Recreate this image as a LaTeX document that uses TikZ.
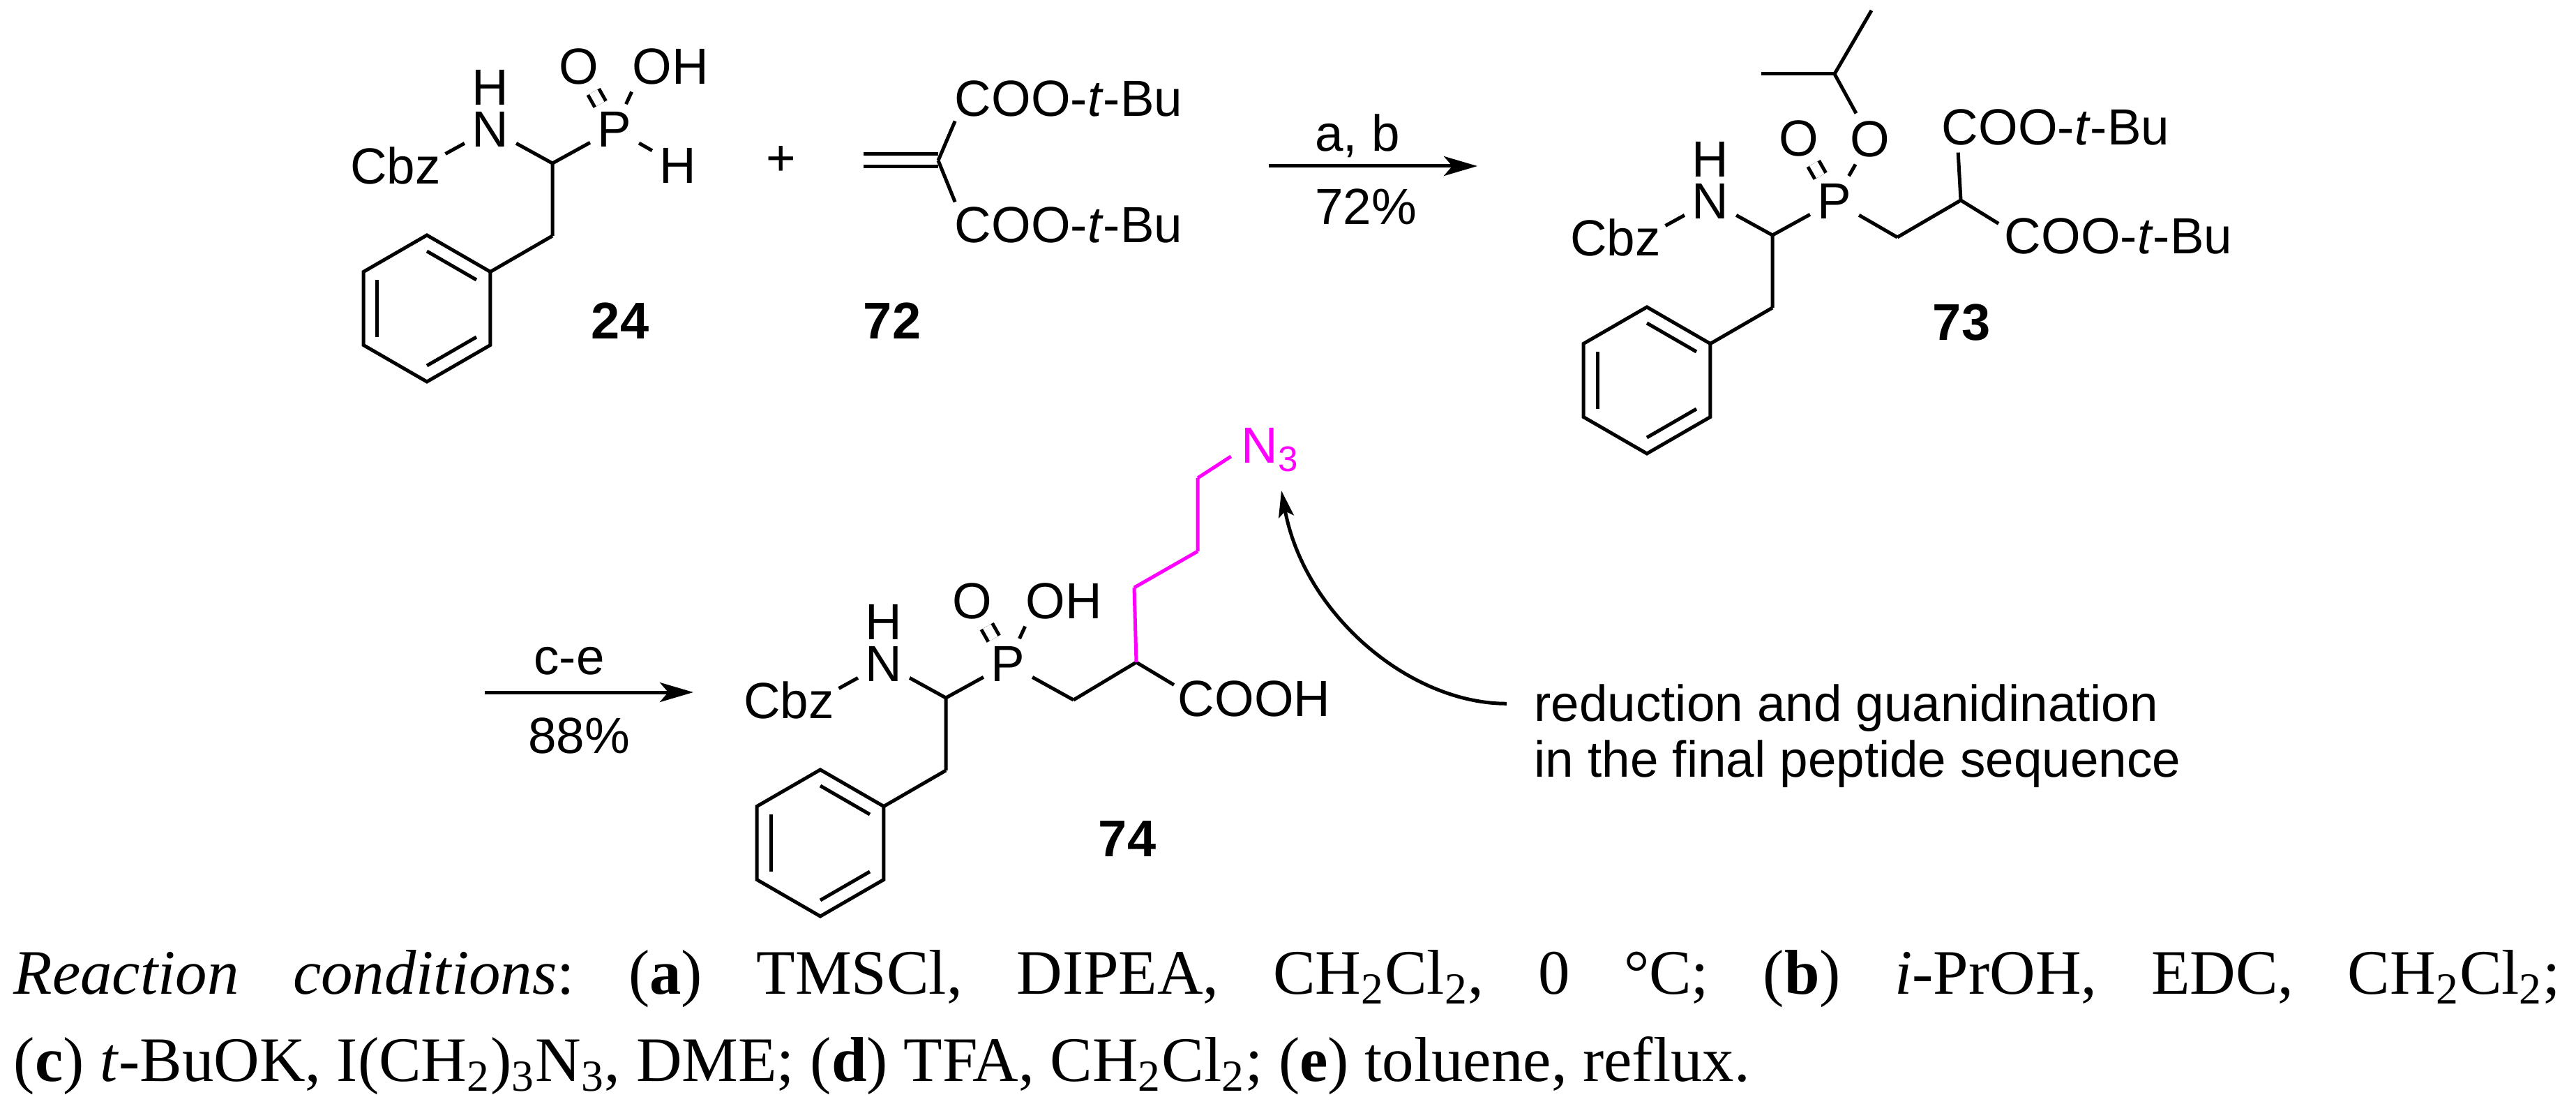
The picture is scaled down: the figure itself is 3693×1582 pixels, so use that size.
\documentclass[tikz,border=0pt]{standalone}
\usepackage{fontspec}
\setmainfont{Liberation Serif}
\setsansfont{Liberation Sans}
\usepackage{tikz}
\usetikzlibrary{positioning,arrows.meta,shapes.geometric}
\definecolor{azidecol}{RGB}{255,0,255}
\tikzset{
    atom/.style={font=\sffamily\fontsize{18.2}{20}\selectfont,inner sep=2.5pt},
    vertex/.style={inner sep=0pt,outer sep=0pt,minimum size=0pt},
    cmpd/.style={font=\sffamily\bfseries\fontsize{18.5}{22}\selectfont,inner sep=0pt},
    bond/.style={line width=1.25pt},
    dbond/.style={bond,double,double distance=3.25pt},
    reaction/.style={line width=1.25pt,-{Stealth[length=12pt,width=7pt,inset=3pt]}},
    ring/.style={regular polygon,regular polygon sides=6,shape border rotate=30,minimum size=52.5pt,inner sep=0pt,outer sep=0pt}
}

\begin{document}
\begin{tikzpicture}[x=0.25pt,y=-0.25pt,on grid]
    \useasboundingbox (0,0) rectangle (3693,1582);

    % the part that 24, 73 and 74 share
    \foreach \m/\cx/\cy in {a/792/234,b/2541/337,c/1356/1000}{
        \node[vertex] (ch\m) at (\cx,\cy) {};
        \node[atom] (n\m) [above left=12.25pt and 22.25pt of ch\m] {N};
        \node[atom] (h\m) [above=15pt of n\m] {H};
        \node[atom] (cbz\m) [below left=13pt and 34pt of n\m] {Cbz};
        \node[atom] (p\m) [above right=12.25pt and 22.25pt of ch\m] {P};
        \node[atom] (o\m) [above left=22.5pt and 12.75pt of p\m] {O};
        \node[vertex] (ctwo\m) [below=26pt of ch\m] {};
        \node[ring,draw,line width=1.25pt] (ring\m) [below left=26pt and 45pt of ctwo\m] {};
        \node[ring,minimum size=41pt] (inner\m) at (ring\m) {};

        \draw[bond] ([shift={(-4,21)}]cbz\m.north east) -- (n\m);
        \draw[bond] (n\m) -- (ch\m) -- (p\m);
        \draw[bond] (ch\m) -- (ctwo\m) -- (ring\m.corner 6);
        \draw[dbond] (p\m) -- (o\m);
        \draw[bond] (inner\m.corner 1) -- (inner\m.corner 6);
        \draw[bond] (inner\m.corner 2) -- (inner\m.corner 3);
        \draw[bond] (inner\m.corner 4) -- (inner\m.corner 5);
    }

    % 24
    \node[atom] (oha) [above right=22.5pt and 20pt of pa] {OH};
    \node[atom] (hpa) [below right=13pt and 22.75pt of pa] {H};
    \node[cmpd] (lab24) at (889,460) {24};
    \draw[bond] (pa) -- ([shift={(10,0)}]oha.south west);
    \draw[bond] (pa) -- (hpa);

    \node[atom] at (1120,230) (plus) {+};

    % 72
    \node[vertex] (cq) at (1345,230) {};
    \node[vertex] (cterm) [left=26.75pt of cq] {};
    \node[atom] (cooa) at (1532,141) {COO-\textit{t}-Bu};
    \node[atom] (coob) at (1532,322) {COO-\textit{t}-Bu};
    \node[cmpd] (lab72) at (1279,460) {72};
    \draw[dbond] (cterm) -- (cq);
    \draw[bond] ([shift={(11,-4)}]cooa.south west) -- (cq) -- ([shift={(11,4)}]coob.north west);

    % first arrow
    \node[vertex] (arrs) at (1819,238) {};
    \node[vertex] (arre) [right=74.75pt of arrs] {};
    \node[atom] (ab) at (1946,195) {a, b};
    \node[atom] (yield) at (1958,296) {72\%};
    \draw[reaction] (arrs) -- (arre);

    % 73
    \node[atom] (oe) [above right=22.25pt and 12.75pt of pb] {O};
    \node[vertex] (cme) [above left=23.25pt and 12.75pt of oe] {};
    \node[vertex] (metop) [above right=22.75pt and 13.25pt of cme] {};
    \node[vertex] (meleft) [left=26.25pt of cme] {};
    \node[vertex] (cbr) [below right=13pt and 22.5pt of pb] {};
    \node[vertex] (cmal) [above right=13.25pt and 22.75pt of cbr] {};
    \node[atom] (cooc) at (2947,182) {COO-\textit{t}-Bu};
    \node[atom] (cood) at (3037,338) {COO-\textit{t}-Bu};
    \node[cmpd] (lab73) at (2812,462) {73};
    \draw[bond] (pb) -- (oe);
    \draw[bond] (oe) -- (cme) -- (metop);
    \draw[bond] (cme) -- (meleft);
    \draw[bond] (pb) -- (cbr) -- (cmal);
    \draw[bond] ([shift={(34,0)}]cooc.south west) -- (cmal) -- ([shift={(2,19)}]cood.north west);

    % second arrow
    \node[vertex] (arrt) at (695,992) {};
    \node[vertex] (arrf) [right=74.75pt of arrt] {};
    \node[atom] (ce) at (816,947) {c-e};
    \node[atom] (yieldb) at (830,1054) {88\%};
    \draw[reaction] (arrt) -- (arrf);

    % 74
    \node[atom] (ohc) [above right=22.5pt and 20pt of pc] {OH};
    \node[vertex] (cbrc) [below right=13pt and 23.5pt of pc] {};
    \node[vertex] (cacid) [above right=13.5pt and 22.5pt of cbrc] {};
    \node[atom] (cooh) at (1798,1001) {COOH};
    \node[cmpd] (lab74) at (1616,1202) {74};
    \draw[bond] (pc) -- ([shift={(10,0)}]ohc.south west);
    \draw[bond] (pc) -- (cbrc) -- (cacid) -- ([shift={(5,17)}]cooh.north west);

    % side chain
    \node[vertex] (cha) at (1626,842) {};
    \node[vertex] (chb) at (1717,790) {};
    \node[vertex] (chc) at (1717,685) {};
    \node[atom,text=azidecol] (azide) at (1821,645) {N\textsubscript{3}};
    \draw[bond,azidecol] (cacid) -- (cha) -- (chb) -- (chc) -- ([shift={(-4,9)}]azide.west);

    \node[atom,inner sep=0pt,align=left] (note) at (2663,1055) {reduction and guanidination\\in the final peptide sequence};
    \draw[bond,-{Stealth[length=9.5pt,width=5.5pt,inset=2pt]}] ([shift={(-39,28)}]note.north west)
        .. controls (2020,1008) and (1870,880) .. ([shift={(16,16)}]azide.south);

    \node[inner sep=0pt,anchor=north west,text width=912.75pt,align=justify,
        font=\frenchspacing\fontsize{22.7}{31.25}\selectfont] (conditions) at (19,1361) {\textit{Reaction conditions}: (\textbf{a}) TMSCl, DIPEA, CH\textsubscript{2}Cl\textsubscript{2}, 0 °C; (\textbf{b}) \textit{i}-PrOH, EDC, CH\textsubscript{2}Cl\textsubscript{2};\linebreak (\textbf{c}) \textit{t}-BuOK, I(CH\textsubscript{2})\textsubscript{3}N\textsubscript{3}, DME; (\textbf{d}) TFA, CH\textsubscript{2}Cl\textsubscript{2}; (\textbf{e}) toluene, reflux.};
\end{tikzpicture}
\end{document}
